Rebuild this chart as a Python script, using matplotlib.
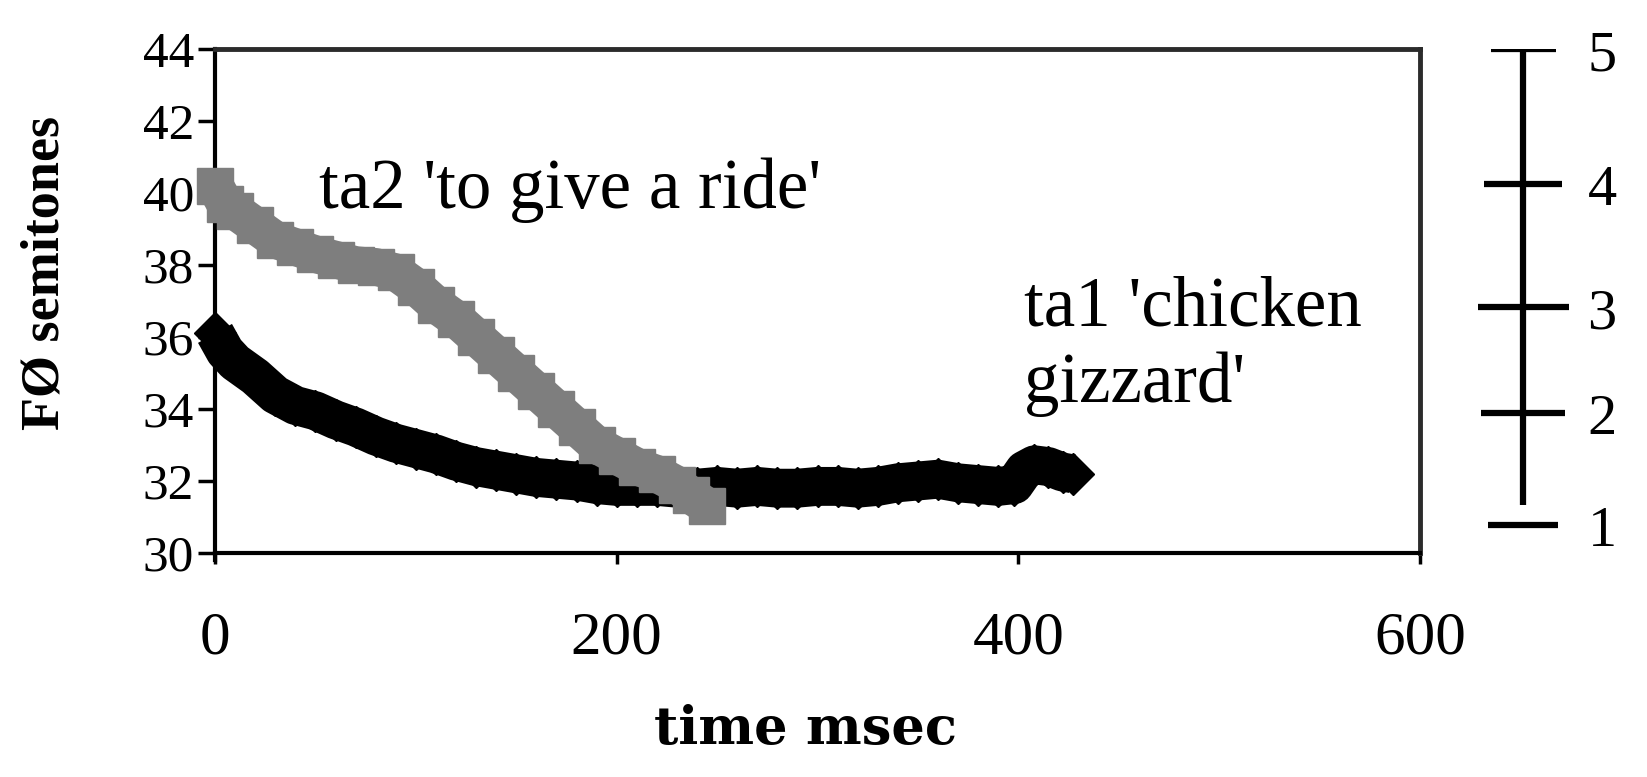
import matplotlib.pyplot as plt

# ta1 'chicken gizzard' - black diamonds
ta1_time = [0, 5, 10, 20, 30, 40, 50, 60, 70, 80, 90, 100, 110, 120, 130, 140,
            150, 160, 170, 180, 190, 200, 210, 220, 230, 240, 250, 260, 270, 280,
            290, 300, 310, 320, 330, 340, 350, 360, 370, 380, 390, 398, 403, 408,
            415, 422, 427]
ta1_f0 = [36.1, 35.6, 35.3, 34.9, 34.4, 34.1, 33.95, 33.7, 33.5, 33.25, 33.05, 32.9,
          32.75, 32.55, 32.4, 32.3, 32.2, 32.1, 32.05, 32.0, 31.9, 31.85, 31.85, 31.85,
          31.8, 31.8, 31.85, 31.8, 31.85, 31.8, 31.8, 31.85, 31.85, 31.8, 31.85, 31.95,
          32.0, 32.05, 31.95, 31.9, 31.85, 31.9, 32.3, 32.45, 32.4, 32.25, 32.2]

# ta2 'to give a ride' - grey squares
ta2_time = [0, 5, 10, 20, 30, 40, 50, 60, 70, 80, 90, 100, 110, 120, 130, 140, 150,
            160, 170, 180, 190, 200, 210, 220, 230, 237, 245]
ta2_f0 = [40.2, 39.7, 39.5, 39.1, 38.7, 38.5, 38.3, 38.15, 38.0, 37.95, 37.8, 37.4,
          36.9, 36.5, 36.0, 35.5, 35.0, 34.5, 34.0, 33.5, 33.0, 32.7, 32.4, 32.2,
          31.9, 31.6, 31.3]

x_ticks = [0, 200, 400, 600]
y_ticks = [30, 32, 34, 36, 38, 40, 42, 44]

# tone letter scale on the right (1-5) placed against the semitone axis
tone_labels = ['1', '2', '3', '4', '5']
tone_f0 = [30.78, 33.9, 36.83, 40.25, 44.0]

serif = ['Liberation Serif', 'DejaVu Serif']
plt.rcParams['font.family'] = serif

fig = plt.figure(figsize=(16.47, 7.77), dpi=100)
ax = fig.add_axes([215 / 1647, 1 - 553 / 777, (1420 - 215) / 1647, (553 - 49) / 777])

# black band: thick line through the points, diamonds on top
ax.plot(ta1_time, ta1_f0, color='black', linewidth=28, solid_capstyle='butt',
        solid_joinstyle='round', zorder=3, clip_on=False)
ax.plot(ta1_time, ta1_f0, linestyle='none', marker='D', markersize=21,
        color='black', zorder=3, clip_on=False)
# grey band
ax.plot(ta2_time, ta2_f0, color='#7e7e7e', linewidth=27, solid_capstyle='butt',
        solid_joinstyle='round', zorder=4, clip_on=False)
ax.plot(ta2_time, ta2_f0, linestyle='none', marker='s', markersize=26,
        markerfacecolor='#7e7e7e', markeredgecolor='#7e7e7e', zorder=4, clip_on=False)

ax.set_xlim(0, 600)
ax.set_ylim(30, 44)
ax.set_xticks(x_ticks)
ax.set_yticks(y_ticks)
ax.tick_params(axis='y', direction='out', length=12, width=2.5, pad=3,
               labelsize=37, colors='black')
ax.tick_params(axis='x', direction='out', length=8, width=2.5, pad=34,
               labelsize=44)

for side in ['left', 'bottom']:
    ax.spines[side].set_linewidth(3)
    ax.spines[side].set_color('black')
for side in ['top', 'right']:
    ax.spines[side].set_linewidth(3.5)
    ax.spines[side].set_color('#2b2b2b')
ax.spines['left'].set_bounds(29.8, 44)

ax.set_ylabel('FØ semitones', fontsize=39, fontweight='bold')
ax.yaxis.set_label_coords(-0.12, 0.556)
ax.set_xlabel('time msec', fontsize=38, fontweight='bold',
              family=['DejaVu Serif'])
ax.xaxis.set_label_coords(0.49, -0.30)

ax.text(52, 39.58, "ta2 'to give a ride'", fontsize=51, va='baseline', ha='left')
ax.text(403, 36.31, "ta1 'chicken", fontsize=51, va='baseline', ha='left')
ax.text(403, 34.19, "gizzard'", fontsize=51, va='baseline', ha='left')

# right-hand tone scale
sc = fig.add_axes([1460 / 1647, 1 - 553 / 777, 130 / 1647, (553 - 49) / 777])
sc.set_xlim(0, 1)
sc.set_ylim(30, 44)
sc.axis('off')
sc.plot([0.485, 0.485], [tone_f0[-1], tone_f0[0] + 0.55], color='black',
        linewidth=4.5, solid_capstyle='butt')
tick_half = [0.27, 0.32, 0.35, 0.3, 0.25]
for lab, f, h in zip(tone_labels, tone_f0, tick_half):
    sc.plot([0.485 - h, 0.485 + h], [f, f], color='black', linewidth=4.5,
            solid_capstyle='butt')
    sc.text(0.98, f - 0.2, lab, fontsize=42, va='center', ha='left', clip_on=False)

fig.savefig('out.png', dpi=100)
